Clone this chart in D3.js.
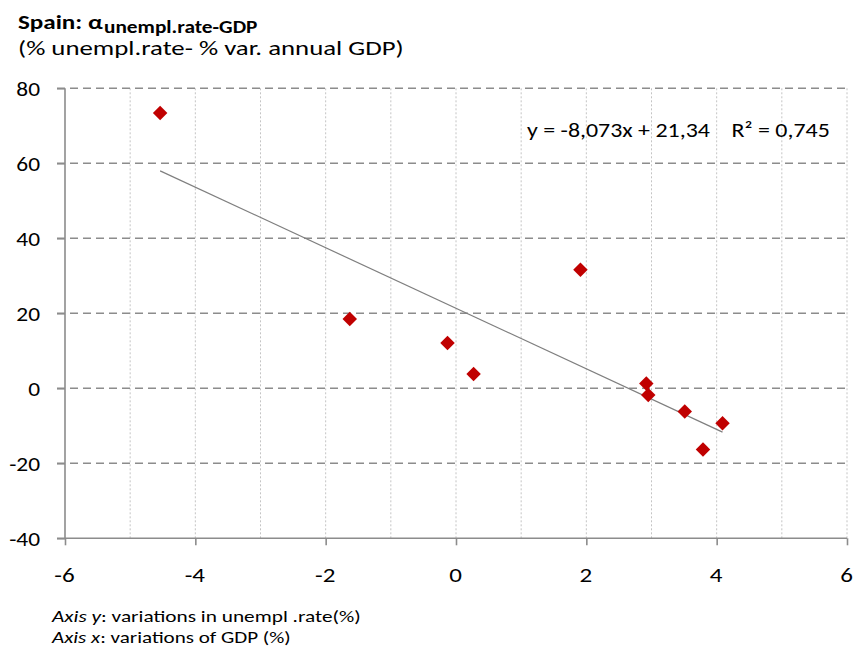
<!DOCTYPE html>
<html><head><meta charset="utf-8">
<script src="https://cdn.jsdelivr.net/npm/d3@7"></script>
<style>body{margin:0;background:#fff}svg{display:block}text{font-family:Calibri,Carlito,Lato,sans-serif;fill:#000}</style>
</head><body>
<script>
const gdpVar = [-4.54, -1.63, -0.13, 0.27, 1.91, 2.92, 2.95, 3.51, 3.79, 4.09];
const unemplVar = [73.4, 18.5, 12.1, 3.8, 31.6, 1.3, -1.8, -6.2, -16.3, -9.3];
const trendSlope = -8.073, trendIntercept = 21.34;
const xTicks = [-6, -4, -2, 0, 2, 4, 6];
const yTicks = [-40, -20, 0, 20, 40, 60, 80];
const xMinor = [-5, -4, -3, -2, -1, 0, 1, 2, 3, 4, 5, 6];
const equationLabel = "y = -8,073x + 21,34    R² = 0,745";
const titleMain = "Spain: α";
const titleSub = "unempl.rate-GDP";
const subtitle = "(% unempl.rate- % var. annual GDP)";

const W = 853, H = 655;
const svg = d3.select("body").append("svg").attr("width", W).attr("height", H);
const x = d3.scaleLinear().domain([-6, 6]).range([65, 847]);
const y = d3.scaleLinear().domain([-40, 80]).range([538.3, 88.3]);
const fmt = d => String(d);

// place a text so that it spans [x0, x1] horizontally with baseline by
function fit(sel, x0, x1, by) {
  sel.attr("x", 0).attr("y", 0);
  const w = sel.node().getBBox().width;
  sel.attr("transform", `translate(${x0},${by}) scale(${(x1 - x0) / w},1)`);
  return sel;
}

// vertical dotted grid
svg.append("g").selectAll("line").data(xMinor).join("line")
  .attr("x1", d => x(d)).attr("x2", d => x(d)).attr("y1", y(80)).attr("y2", y(-40))
  .attr("stroke", "#c4c4c4").attr("stroke-width", 1).attr("stroke-dasharray", "2,2");

// horizontal dashed grid
svg.append("g").selectAll("line").data(yTicks.filter(d => d > -40)).join("line")
  .attr("x1", x(-6) - 8).attr("x2", x(6)).attr("y1", d => y(d)).attr("y2", d => y(d))
  .attr("stroke", "#8c8c8c").attr("stroke-width", 1.6).attr("stroke-dasharray", "8,5");

// axes
const yAxis = d3.axisLeft(y).tickValues(yTicks).tickSize(8).tickFormat(fmt);
const gy = svg.append("g").attr("transform", `translate(${x(-6)},0)`).call(yAxis);
gy.select(".domain").attr("stroke", "#8c8c8c").attr("stroke-width", 1.6).attr("d", `M-8,${y(-40)}H0V${y(80)}`);
gy.selectAll(".tick line").attr("stroke", "#8c8c8c").attr("stroke-width", 1.6);
gy.selectAll(".tick text").attr("x", 0).attr("dy", "0.36em").style("font-size", "20px")
  .attr("transform", "translate(-25,0) scale(1.17,1)");

const xAxis = d3.axisBottom(x).tickValues(xTicks).tickSize(7).tickFormat(fmt);
const gx = svg.append("g").attr("transform", `translate(0,${y(-40)})`).call(xAxis);
gx.select(".domain").attr("stroke", "#8c8c8c").attr("stroke-width", 1.6).attr("d", `M${x(-6)},0H${x(6)}`);
gx.selectAll(".tick line").attr("stroke", "#8c8c8c").attr("stroke-width", 1.6);
gx.selectAll(".tick text").attr("y", 0).attr("dy", 0).style("font-size", "21px")
  .attr("transform", "translate(-1,44) scale(1.19,1)");
svg.selectAll(".tick text").attr("fill", "#000").style("font-family", "Calibri,Carlito,Lato,sans-serif");

// trend line
const xr = d3.extent(gdpVar);
svg.append("line")
  .attr("x1", x(xr[0])).attr("y1", y(trendSlope * xr[0] + trendIntercept))
  .attr("x2", x(xr[1])).attr("y2", y(trendSlope * xr[1] + trendIntercept))
  .attr("stroke", "#7f7f7f").attr("stroke-width", 1.2);

// points
const sym = d3.symbol().type(d3.symbolSquare).size(105);
svg.append("g").selectAll("path").data(gdpVar.map((g, i) => [g, unemplVar[i]])).join("path")
  .attr("d", sym)
  .attr("transform", d => `translate(${x(d[0])},${y(d[1])}) rotate(45)`)
  .attr("fill", "#c00000");

// equation
fit(svg.append("text").style("font-size", "21px").style("white-space", "pre").text(equationLabel), 527, 830, 136.5);

// title
fit(svg.append("text").style("font-size", "20px").style("font-weight", "bold").text(titleMain), 18, 103, 28.5);
fit(svg.append("text").style("font-size", "18px").style("font-weight", "bold").text(titleSub), 104, 258, 33);
fit(svg.append("text").style("font-size", "20px").text(subtitle), 18, 404, 55);

// footnotes
const f1 = svg.append("text").style("font-size", "17px");
f1.append("tspan").style("font-style", "italic").text("Axis y");
f1.append("tspan").text(": variations in unempl .rate(%)");
fit(f1, 52, 362, 622);
const f2 = svg.append("text").style("font-size", "17px");
f2.append("tspan").style("font-style", "italic").text("Axis x");
f2.append("tspan").text(": variations of GDP (%)");
fit(f2, 52, 292, 643);
</script>
</body></html>
